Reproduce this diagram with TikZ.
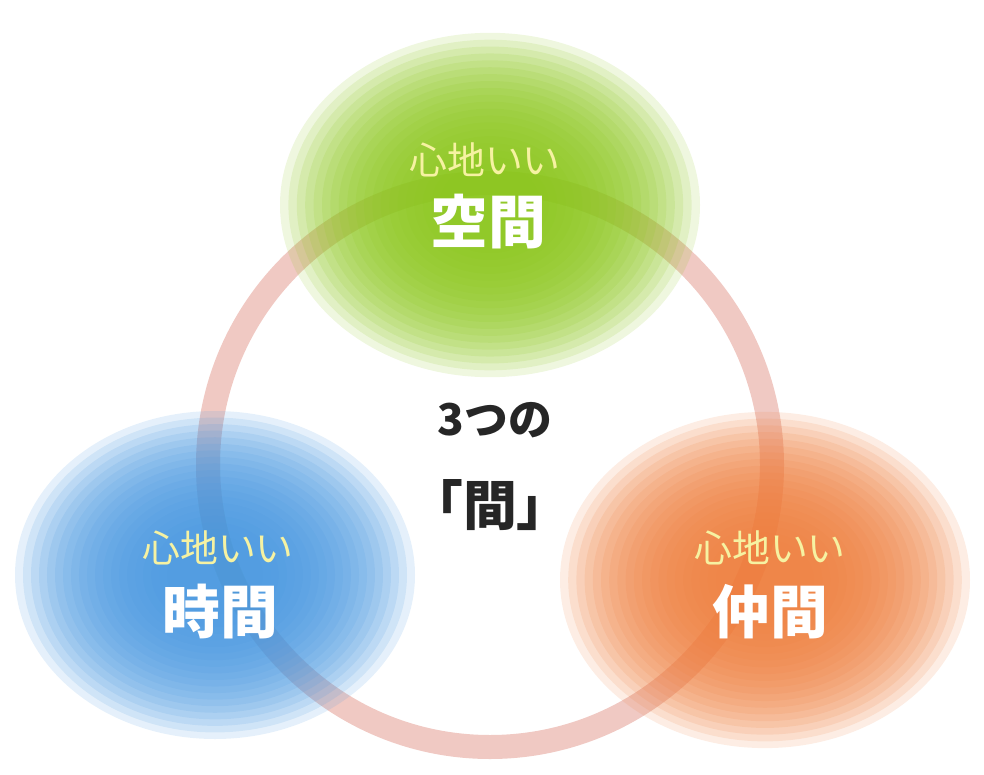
\documentclass[tikz,border=0pt]{standalone}
\usepackage{fontspec}
\newfontfamily\cjk{Noto Sans CJK JP}
\definecolor{ringpink}{HTML}{F0C9C3}
\definecolor{spacegreen}{HTML}{8CC61E}
\definecolor{timeblue}{HTML}{4A98E0}
\definecolor{mateorange}{HTML}{EE8040}
\definecolor{paleyellow}{HTML}{F6F2A2}
\newcommand\blobat[4]{% colour, x, y, radius
  \foreach \k in {0,...,19}
    \fill[#1, opacity=0.14] (#2,#3) ellipse [x radius={#4*(1-\k*0.04)}, y radius={0.82*#4*(1-\k*0.04)}];}
\tikzset{
  small/.style={text=paleyellow, font=\cjk\fontsize{38}{38}\selectfont},
  big/.style={text=white, font=\cjk\bfseries\fontsize{58}{58}\selectfont},
  centre/.style={text=black!85, align=center}
}
\begin{document}
\begin{tikzpicture}[x=1bp,y=-1bp]
\useasboundingbox (0,0) rectangle (984,775);
% ring
\draw[ringpink, line width=24bp] (490,465) circle [radius=282];
% blobs
\blobat{spacegreen}{490}{205}{210}
\blobat{timeblue}{215}{575}{200}
\blobat{mateorange}{765}{580}{205}
% labels
\node[small] (spaceA) at (485,160) {心地いい};
\node[big] (spaceB) at (488,222) {空間};
\node[small] (timeA) at (218,548) {心地いい};
\node[big] (timeB) at (220,612) {時間};
\node[small] (mateA) at (770,548) {心地いい};
\node[big] (mateB) at (770,612) {仲間};
\node[centre, font=\cjk\bfseries\fontsize{44}{44}\selectfont] (three) at (495,420) {3つの};
\node[centre, font=\cjk\bfseries\fontsize{54}{54}\selectfont] (ma) at (490,505) {「間」};
\end{tikzpicture}
\end{document}
